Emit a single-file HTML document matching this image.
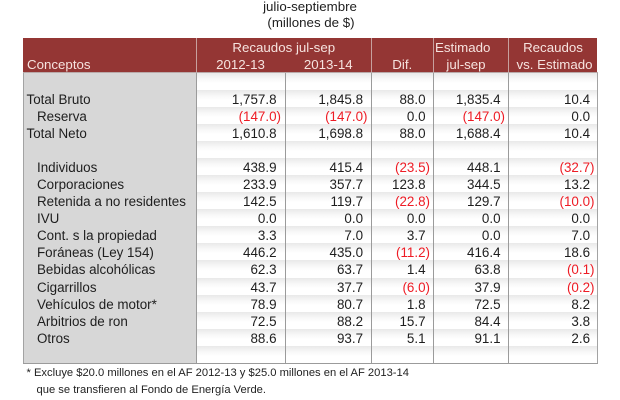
<!DOCTYPE html>
<html>
<head>
<meta charset="utf-8">
<style>
  html,body{margin:0;padding:0;background:#fff;}
  body{width:620px;height:400px;position:relative;overflow:hidden;
       font-family:"Liberation Sans",Arial,sans-serif;color:#1e1e1e;}
  .abs{position:absolute;}
  .t{position:absolute;font-size:13.3px;line-height:16px;white-space:nowrap;}
  .hdr{position:absolute;left:23px;top:38.3px;width:574px;height:34.2px;background:#943634;}
  .ht{position:absolute;font-size:13.3px;line-height:16px;white-space:nowrap;color:#f6e3df;}
  .hl{position:absolute;top:38.3px;height:34.2px;width:1px;background:#c7a09e;}
  .gray{position:absolute;left:23px;top:72.5px;width:173px;height:290.5px;background:#d7d7d7;}
  .row{position:absolute;left:196px;width:401px;height:17.09px;
       background:linear-gradient(to bottom,#e9e9e9 0%,#f8f8f8 35%,#ffffff 60%,#ffffff 100%);}
  .vl{position:absolute;top:72.5px;height:290.5px;width:1px;background:#9b9b9b;}
  .tr{position:absolute;left:0;width:620px;height:17.09px;font-size:13.4px;line-height:17px;white-space:nowrap;}
  .tr span{position:absolute;top:1px;}
  .lab{left:26.5px;}
  .ind{left:37px;}
  .n{text-align:right;}
  .c1{left:196px;width:85px;}
  .c2{left:285px;width:82.5px;}
  .c3{left:371.5px;width:58.5px;}
  .c4{left:433px;width:72px;}
  .c5{left:508px;width:86.5px;}
  .neg{color:#ee1c25;}
  i{font-style:normal;visibility:hidden;}
  .fn{position:absolute;font-size:11.2px;line-height:14px;white-space:nowrap;color:#222;}
</style>
</head>
<body>

<!-- Title -->
<div class="t" style="left:0;width:620px;text-align:center;top:-1.5px;">
  <span style="position:relative;left:0px;">julio-septiembre</span>
</div>
<div class="t" style="left:0;width:620px;text-align:center;top:14.5px;">
  <span style="position:relative;left:1px;">(millones de $)</span>
</div>

<!-- Header -->
<div class="hdr"></div>
<div class="hl" style="left:195.5px;"></div>
<div class="hl" style="left:371px;"></div>
<div class="hl" style="left:432.5px;"></div>
<div class="hl" style="left:507.5px;"></div>

<div class="ht" style="left:27px;top:57.4px;">Conceptos</div>
<div class="ht" style="left:196px;width:175.5px;text-align:center;top:39.9px;">Recaudos jul-sep</div>
<div class="ht" style="left:196px;width:89px;text-align:center;top:57.4px;">2012-13</div>
<div class="ht" style="left:285px;width:86.5px;text-align:center;top:57.4px;">2013-14</div>
<div class="ht" style="left:371.5px;width:61.5px;text-align:center;top:57.4px;">Dif.</div>
<div class="ht" style="left:435px;top:39.9px;">Estimado</div>
<div class="ht" style="left:433px;width:66px;text-align:center;top:57.4px;">jul-sep</div>
<div class="ht" style="left:508px;width:90px;text-align:center;top:39.9px;">Recaudos</div>
<div class="ht" style="left:508px;width:93px;text-align:center;top:57.4px;">vs. Estimado</div>

<!-- Body backgrounds -->
<div class="gray"></div>
<div class="row" style="top:72.5px;"></div>
<div class="row" style="top:89.59px;"></div>
<div class="row" style="top:106.68px;"></div>
<div class="row" style="top:123.77px;"></div>
<div class="row" style="top:140.86px;"></div>
<div class="row" style="top:157.95px;"></div>
<div class="row" style="top:175.04px;"></div>
<div class="row" style="top:192.13px;"></div>
<div class="row" style="top:209.22px;"></div>
<div class="row" style="top:226.31px;"></div>
<div class="row" style="top:243.4px;"></div>
<div class="row" style="top:260.49px;"></div>
<div class="row" style="top:277.58px;"></div>
<div class="row" style="top:294.67px;"></div>
<div class="row" style="top:311.76px;"></div>
<div class="row" style="top:328.85px;"></div>
<div class="row" style="top:345.94px;"></div>

<!-- Body lines -->
<div class="vl" style="left:23px;background:#a3a3a3;"></div>
<div class="vl" style="left:195.5px;"></div>
<div class="vl" style="left:284.5px;"></div>
<div class="vl" style="left:371px;"></div>
<div class="vl" style="left:432.5px;"></div>
<div class="vl" style="left:507.5px;"></div>
<div class="vl" style="left:596.5px;background:#a3a3a3;"></div>
<div class="abs" style="left:23px;top:362.5px;width:574.5px;height:1px;background:#9b9b9b;"></div>
<div class="abs" style="left:23px;top:72.2px;width:574.5px;height:1px;background:#b9a9a9;"></div>

<!-- Rows text -->
<div class="tr" style="top:89.59px;">
  <span class="lab">Total Bruto</span>
  <span class="n c1">1,757.8<i>)</i></span>
  <span class="n c2">1,845.8<i>)</i></span>
  <span class="n c3">88.0<i>)</i></span>
  <span class="n c4">1,835.4<i>)</i></span>
  <span class="n c5">10.4<i>)</i></span>
</div>
<div class="tr" style="top:106.68px;">
  <span class="ind">Reserva</span>
  <span class="n c1 neg">(147.0)</span>
  <span class="n c2 neg">(147.0)</span>
  <span class="n c3">0.0<i>)</i></span>
  <span class="n c4 neg">(147.0)</span>
  <span class="n c5">0.0<i>)</i></span>
</div>
<div class="tr" style="top:123.77px;">
  <span class="lab">Total Neto</span>
  <span class="n c1">1,610.8<i>)</i></span>
  <span class="n c2">1,698.8<i>)</i></span>
  <span class="n c3">88.0<i>)</i></span>
  <span class="n c4">1,688.4<i>)</i></span>
  <span class="n c5">10.4<i>)</i></span>
</div>
<div class="tr" style="top:157.95px;">
  <span class="ind">Individuos</span>
  <span class="n c1">438.9<i>)</i></span>
  <span class="n c2">415.4<i>)</i></span>
  <span class="n c3 neg">(23.5)</span>
  <span class="n c4">448.1<i>)</i></span>
  <span class="n c5 neg">(32.7)</span>
</div>
<div class="tr" style="top:175.04px;">
  <span class="ind">Corporaciones</span>
  <span class="n c1">233.9<i>)</i></span>
  <span class="n c2">357.7<i>)</i></span>
  <span class="n c3">123.8<i>)</i></span>
  <span class="n c4">344.5<i>)</i></span>
  <span class="n c5">13.2<i>)</i></span>
</div>
<div class="tr" style="top:192.13px;">
  <span class="ind">Retenida a no residentes</span>
  <span class="n c1">142.5<i>)</i></span>
  <span class="n c2">119.7<i>)</i></span>
  <span class="n c3 neg">(22.8)</span>
  <span class="n c4">129.7<i>)</i></span>
  <span class="n c5 neg">(10.0)</span>
</div>
<div class="tr" style="top:209.22px;">
  <span class="ind">IVU</span>
  <span class="n c1">0.0<i>)</i></span>
  <span class="n c2">0.0<i>)</i></span>
  <span class="n c3">0.0<i>)</i></span>
  <span class="n c4">0.0<i>)</i></span>
  <span class="n c5">0.0<i>)</i></span>
</div>
<div class="tr" style="top:226.31px;">
  <span class="ind">Cont. s la propiedad</span>
  <span class="n c1">3.3<i>)</i></span>
  <span class="n c2">7.0<i>)</i></span>
  <span class="n c3">3.7<i>)</i></span>
  <span class="n c4">0.0<i>)</i></span>
  <span class="n c5">7.0<i>)</i></span>
</div>
<div class="tr" style="top:243.4px;">
  <span class="ind">Foráneas (Ley 154)</span>
  <span class="n c1">446.2<i>)</i></span>
  <span class="n c2">435.0<i>)</i></span>
  <span class="n c3 neg">(11.2)</span>
  <span class="n c4">416.4<i>)</i></span>
  <span class="n c5">18.6<i>)</i></span>
</div>
<div class="tr" style="top:260.49px;">
  <span class="ind">Bebidas alcohólicas</span>
  <span class="n c1">62.3<i>)</i></span>
  <span class="n c2">63.7<i>)</i></span>
  <span class="n c3">1.4<i>)</i></span>
  <span class="n c4">63.8<i>)</i></span>
  <span class="n c5 neg">(0.1)</span>
</div>
<div class="tr" style="top:277.58px;">
  <span class="ind">Cigarrillos</span>
  <span class="n c1">43.7<i>)</i></span>
  <span class="n c2">37.7<i>)</i></span>
  <span class="n c3 neg">(6.0)</span>
  <span class="n c4">37.9<i>)</i></span>
  <span class="n c5 neg">(0.2)</span>
</div>
<div class="tr" style="top:294.67px;">
  <span class="ind">Vehículos de motor*</span>
  <span class="n c1">78.9<i>)</i></span>
  <span class="n c2">80.7<i>)</i></span>
  <span class="n c3">1.8<i>)</i></span>
  <span class="n c4">72.5<i>)</i></span>
  <span class="n c5">8.2<i>)</i></span>
</div>
<div class="tr" style="top:311.76px;">
  <span class="ind">Arbitrios de ron</span>
  <span class="n c1">72.5<i>)</i></span>
  <span class="n c2">88.2<i>)</i></span>
  <span class="n c3">15.7<i>)</i></span>
  <span class="n c4">84.4<i>)</i></span>
  <span class="n c5">3.8<i>)</i></span>
</div>
<div class="tr" style="top:328.85px;">
  <span class="ind">Otros</span>
  <span class="n c1">88.6<i>)</i></span>
  <span class="n c2">93.7<i>)</i></span>
  <span class="n c3">5.1<i>)</i></span>
  <span class="n c4">91.1<i>)</i></span>
  <span class="n c5">2.6<i>)</i></span>
</div>

<!-- Footnote -->
<div class="fn" style="left:26.5px;top:366.1px;">* Excluye $20.0 millones en el AF 2012-13 y $25.0 millones en el AF 2013-14</div>
<div class="fn" style="left:36.5px;top:383.1px;">que se transfieren al Fondo de Energía Verde.</div>

</body>
</html>
